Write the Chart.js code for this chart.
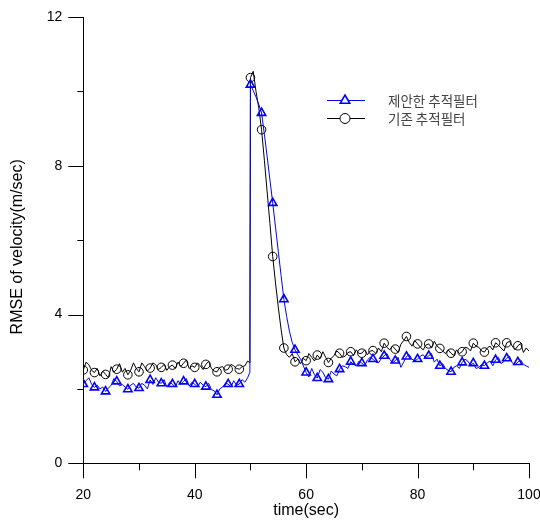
<!DOCTYPE html>
<html><head><meta charset="utf-8">
<script src="https://cdn.jsdelivr.net/npm/chart.js@4"></script>
<style>html,body{margin:0;padding:0;background:#fff;}#wrap{width:540px;height:522px;}</style>
</head><body><div id="wrap"><canvas id="c" width="540" height="522"></canvas></div>
<script>
const seriesNames = ['제안한 추적필터', '기존 추적필터'];
const xTitle = 'time(sec)';
const yTitle = 'RMSE of velocity(m/sec)';
const xTickLabels = [20, 40, 60, 80, 100];
const yTickLabels = [0, 4, 8, 12];

const times = [
  20,20.5,21,21.5,22,22.5,23,23.5,24,24.5,25,25.5,26,26.5,27,27.5,28,28.5,29,29.5,
  30,30.5,31,31.5,32,32.5,33,33.5,34,34.5,35,35.5,36,36.5,37,37.5,38,38.5,39,39.5,
  40,40.5,41,41.5,42,42.5,43,43.5,44,44.5,45,45.5,46,46.5,47,47.5,48,48.5,49,49.5,
  49.9,
  50,50.5,51,51.5,52,52.5,53,53.5,54,54.5,55,55.5,56,56.5,57,57.5,58,58.5,59,59.5,
  60,60.5,61,61.5,62,62.5,63,63.5,64,64.5,65,65.5,66,66.5,67,67.5,68,68.5,69,69.5,
  70,70.5,71,71.5,72,72.5,73,73.5,74,74.5,75,75.5,76,76.5,77,77.5,78,78.5,79,79.5,
  80,80.5,81,81.5,82,82.5,83,83.5,84,84.5,85,85.5,86,86.5,87,87.5,88,88.5,89,89.5,
  90,90.5,91,91.5,92,92.5,93,93.5,94,94.5,95,95.5,96,96.5,97,97.5,98,98.5,99,99.5,100];

const proposed = [
  2.13,2.22,2.30,2.12,2.04,2.10,2.00,2.05,1.93,2.02,2.10,2.28,2.20,2.08,2.12,2.05,1.99,2.10,2.15,2.05,
  2.02,2.15,2.10,2.00,2.24,2.12,2.30,2.18,2.15,2.25,2.05,2.18,2.13,2.05,2.22,2.12,2.20,2.28,2.08,2.18,
  2.13,2.05,2.18,2.10,2.06,2.15,1.98,1.95,1.84,2.00,2.05,2.15,2.13,2.05,2.22,2.10,2.13,2.25,2.18,2.30,
  2.45,
  10.18,10.02,9.85,9.65,9.42,8.85,8.25,7.62,7.00,6.35,5.70,5.05,4.41,3.95,3.55,3.25,3.05,2.92,2.80,2.62,
  2.44,2.32,2.55,2.38,2.29,2.52,2.45,2.30,2.26,2.48,2.40,2.35,2.53,2.62,2.60,2.55,2.73,2.66,2.62,2.75,
  2.69,2.62,2.78,2.85,2.80,2.72,2.70,2.82,2.89,2.95,2.80,2.70,2.76,2.85,2.58,2.72,2.87,2.92,2.80,2.75,
  2.80,2.88,2.92,2.82,2.89,2.95,2.72,2.80,2.62,2.68,2.55,2.50,2.46,2.58,2.62,2.55,2.71,2.80,2.75,2.64,
  2.69,2.55,2.58,2.66,2.62,2.70,2.75,2.62,2.78,2.85,2.68,2.74,2.82,2.88,2.70,2.64,2.72,2.78,2.66,2.62,2.58];

const existing = [
  2.51,2.72,2.65,2.50,2.44,2.55,2.35,2.48,2.39,2.30,2.60,2.45,2.53,2.68,2.45,2.55,2.38,2.50,2.70,2.55,
  2.46,2.70,2.60,2.48,2.56,2.70,2.65,2.52,2.58,2.66,2.50,2.60,2.64,2.55,2.72,2.60,2.69,2.78,2.55,2.62,
  2.58,2.70,2.62,2.52,2.66,2.74,2.55,2.48,2.46,2.58,2.60,2.50,2.53,2.66,2.62,2.55,2.53,2.60,2.62,2.75,
  2.70,
  10.37,10.54,10.00,9.55,8.97,8.15,7.30,6.45,5.56,4.85,4.20,3.60,3.10,2.92,2.85,2.95,2.73,2.80,2.68,2.82,
  2.76,2.95,2.85,2.75,2.91,2.82,3.00,2.85,2.71,2.82,2.90,3.02,2.96,2.85,2.88,2.98,3.00,2.90,3.05,2.95,
  2.96,3.05,2.92,3.02,3.03,2.95,3.10,3.00,3.23,3.12,3.05,3.15,3.07,2.98,3.20,3.30,3.41,3.25,3.15,3.30,
  3.21,3.12,3.05,3.18,3.21,3.10,3.28,3.15,3.09,3.02,2.95,3.05,2.96,2.90,3.05,2.95,3.00,3.12,3.10,3.02,
  3.23,3.15,3.12,3.02,2.99,3.10,3.15,3.05,3.24,3.18,3.10,3.02,3.24,3.28,3.15,3.05,3.16,3.22,2.98,3.10,3.02];

const FONT = '"Liberation Sans", Arial, sans-serif';
function markerRadius(r) {
  return ctx => {
    const t = times[ctx.dataIndex];
    return (Number.isInteger(t) && t % 2 === 0 && t < 100) ? r : 0;
  };
}
const toXY = vals => times.map((t, i) => ({x: t, y: vals[i]}));

const tickPlugin = {
  id: 'customTicks',
  afterDraw(chart) {
    const ctx = chart.ctx, xs = chart.scales.x, ys = chart.scales.y;
    ctx.save();
    ctx.strokeStyle = '#000'; ctx.lineWidth = 1;
    ctx.beginPath();
    xs.ticks.forEach(t => {
      const px = Math.round(xs.getPixelForValue(t.value)) + 0.5;
      const len = xTickLabels.includes(t.value) ? 15 : 7;
      ctx.moveTo(px, xs.top); ctx.lineTo(px, xs.top + len);
    });
    ys.ticks.forEach(t => {
      const py = Math.round(ys.getPixelForValue(t.value)) + 0.5;
      const len = yTickLabels.includes(t.value) ? 15 : 6;
      ctx.moveTo(ys.right, py); ctx.lineTo(ys.right - len, py);
    });
    ctx.stroke();
    ctx.restore();
  }
};

const legendPlugin = {
  id: 'customLegend',
  afterDraw(chart) {
    const ctx = chart.ctx;
    ctx.save();
    chart.data.datasets.forEach((ds, i) => {
      const y = 100.5 + i * 18;
      ctx.strokeStyle = ds.borderColor; ctx.lineWidth = 1;
      ctx.beginPath(); ctx.moveTo(327, y); ctx.lineTo(365, y); ctx.stroke();
      ctx.lineWidth = ds.pointBorderWidth;
      ctx.strokeStyle = ds.pointBorderColor;
      ctx.fillStyle = '#fff';
      Chart.helpers.drawPoint(ctx, {pointStyle: ds.pointStyle, radius: ds.pointStyle === 'triangle' ? 5.5 : 5, rotation: 0, borderWidth: ds.pointBorderWidth}, 345, y);
      ctx.fillStyle = '#444';
      ctx.font = '13.5px "Noto Sans CJK KR", sans-serif';
      ctx.textBaseline = 'middle';
      ctx.fillText(ds.label, 388, y);
    });
    ctx.restore();
  }
};

new Chart(document.getElementById('c'), {
  type: 'line',
  data: {
    datasets: [
      {label: seriesNames[0], data: toXY(proposed), borderColor: '#0000ff', borderWidth: 1,
       pointStyle: 'triangle', pointRadius: markerRadius(4.8), pointBorderColor: '#0000ff', pointBorderWidth: 1.6,
       pointBackgroundColor: 'rgba(255,255,255,0)', tension: 0, fill: false},
      {label: seriesNames[1], data: toXY(existing), borderColor: '#000000', borderWidth: 1,
       pointStyle: 'circle', pointRadius: markerRadius(4.3), pointBorderColor: '#000000', pointBorderWidth: 1,
       pointBackgroundColor: 'rgba(255,255,255,0)', tension: 0, fill: false}
    ]
  },
  options: {
    responsive: false, animation: false, events: [],
    layout: {padding: {top: 17, right: 11, left: 0, bottom: 0}},
    plugins: {legend: {display: false}, tooltip: {enabled: false}},
    scales: {
      x: {
        type: 'linear', min: 20, max: 100,
        grid: {drawOnChartArea: false, drawTicks: false},
        border: {display: true, color: '#000', width: 1},
        ticks: {stepSize: 10, padding: 23, color: '#000', font: {family: FONT, size: 14},
                maxRotation: 0, autoSkip: false,
                callback: v => xTickLabels.includes(v) ? String(v) : ''},
        title: {display: true, text: xTitle, color: '#000', font: {family: FONT, size: 16}, padding: {top: 0, bottom: 2}},
        afterFit: s => { s.height = 58.7; s.paddingLeft = 0; s.paddingRight = 0; }
      },
      y: {
        min: 0, max: 12,
        grid: {drawOnChartArea: false, drawTicks: false},
        border: {display: true, color: '#000', width: 1},
        ticks: {stepSize: 2, padding: 21, color: '#000', font: {family: FONT, size: 14}, autoSkip: false,
                callback: v => yTickLabels.includes(v) ? String(v) : ''},
        title: {display: true, text: yTitle + '   ', color: '#000', font: {family: FONT, size: 16}, padding: {top: 8, bottom: 0}},
        afterFit: s => { s.width = 83.3; s.paddingTop = 0; s.paddingBottom = 0; }
      }
    }
  },
  plugins: [tickPlugin, legendPlugin]
});
</script></body></html>
